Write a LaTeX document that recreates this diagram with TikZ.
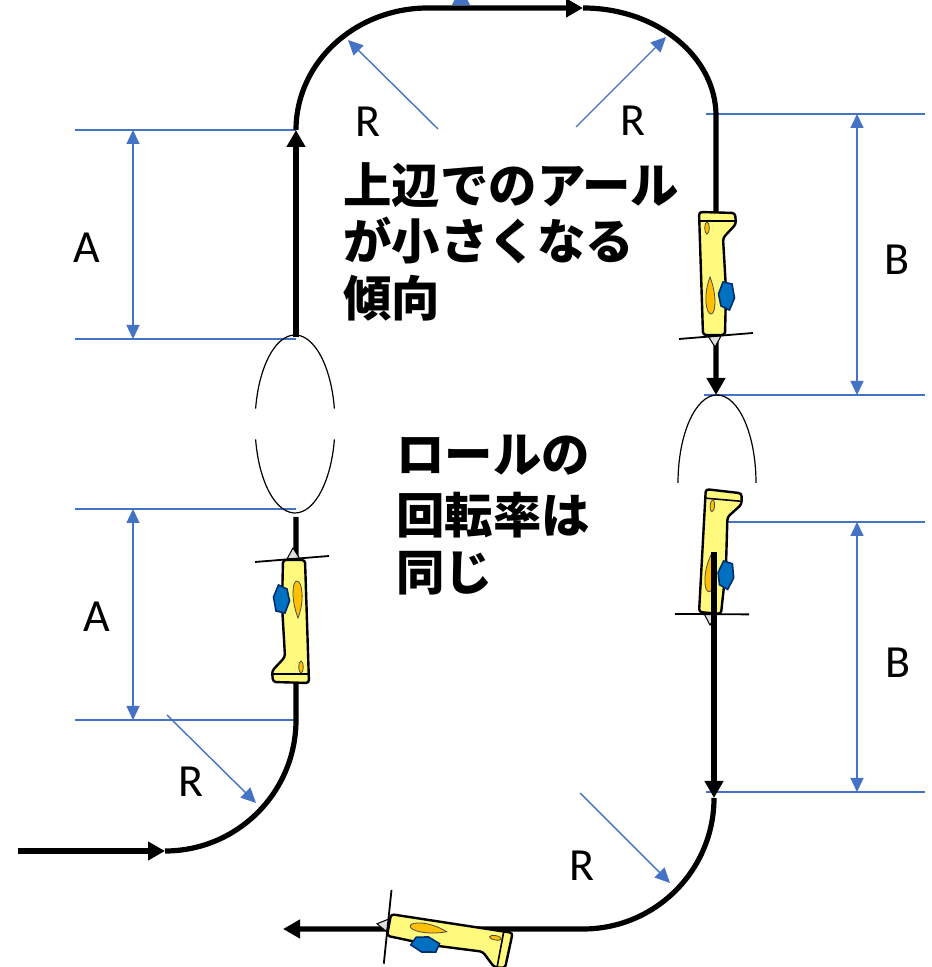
\documentclass[tikz,border=0pt]{standalone}
\usepackage{fontspec}
\setmainfont{Carlito}
\newfontfamily\jpfont{Noto Sans CJK JP}
\usetikzlibrary{arrows.meta}
\definecolor{dimblue}{RGB}{68,114,196}
\definecolor{planeyellow}{RGB}{255,250,125}
\definecolor{wingorange}{RGB}{255,192,0}
\definecolor{canopyblue}{RGB}{0,112,192}
\tikzset{
flight/.style={line width=2.6pt},
arrowed/.style={-{Triangle[length=8.5pt,width=9pt]}},
dimline/.style={draw=dimblue, line width=0.7pt},
dimarrow/.style={dimline, {Triangle[length=7pt,width=6.5pt]}-{Triangle[length=7pt,width=6.5pt]}},
rline/.style={dimline, -{Triangle[length=7.5pt,width=7pt]}},
rollline/.style={line width=0.6pt},
lbl/.style={font=\fontsize{23}{27}\selectfont, inner sep=0pt},
jp/.style={font=\jpfont\bfseries\fontsize{24.2}{28}\selectfont, inner sep=0pt, anchor=base west},
body/.style={draw, line width=1.2pt, fill=planeyellow, rounded corners=1.5pt},
wing/.style={draw=black!70, line width=0.4pt, fill=wingorange},
canopy/.style={draw={rgb,255:red,0;green,45;blue,110}, line width=0.8pt, fill=canopyblue},
pics/plane/.style={code={
  \draw[line width=0.5pt, fill=gray!25] (-7,1) -- (-1,12) -- (6,1) -- cycle;
  \draw[body] (-11,0) -- (11,0) -- (15,-123) -- (-21,-122) -- (-22,-111) -- (-9,-97) -- (-12,-45) -- cycle;
  \draw[line width=0.8pt] (-21,-114) -- (14,-114);
  \draw[wing] (7,-107) ellipse[x radius=2.2, y radius=6];
  \draw[wing] (4,-58) .. controls (11,-40) and (8,-21) .. (3,-21) .. controls (-2,-21) and (-3,-40) .. (4,-58) -- cycle;
  \draw[canopy] (-15.5,-25) -- (-7,-29) -- (-4.5,-41) -- (-9,-53) -- (-18,-51) -- (-20.5,-37) -- cycle;
  \draw[line width=0.9pt] (-39,-2) -- (35,4);
}}
}

\begin{document}
\begin{tikzpicture}[x=0.5pt, y=0.5pt]
\useasboundingbox (0,0) rectangle (931,967);

% points along the flight path
\coordinate (in) at (18,116);
\coordinate (c1) at (165,116);
\coordinate (l2) at (296,450);
\coordinate (l3) at (296,630);
\coordinate (l4) at (296,837);
\coordinate (t2) at (583,959);
\coordinate (r2) at (716,572);
\coordinate (r3) at (714,415);
\coordinate (r4) at (714,169);
\coordinate (out) at (283,38);
\coordinate (roll) at (295,543);
\coordinate (rollr) at (717,484);

% dimension lines
\draw[dimline] (75,837) -- (296,837);
\draw[dimline] (75,628) -- (296,628);
\draw[dimline] (75,458) -- (296,458);
\draw[dimline] (75,247) -- (296,247);
\draw[dimline] (706,853) -- (925,853);
\draw[dimline] (704,572) -- (925,572);
\draw[dimline] (704,445) -- (925,445);
\draw[dimline] (706,175) -- (925,175);
\draw[dimarrow] (133,837) -- (133,628);
\draw[dimarrow] (133,458) -- (133,247);
\draw[dimarrow] (857,853) -- (857,572);
\draw[dimarrow] (857,445) -- (857,175);

% radius arrows
\draw[rline] (438,838) -- (348,927);
\draw[rline] (576,840) -- (666,930);
\draw[rline] (167,252) -- (256,164);
\draw[rline] (580,174) -- (670,84);
\begin{scope}
\clip (0,0) rectangle (931,967);
\fill[dimblue] (452,962) -- (470,962) -- (461,980) -- cycle;
\end{scope}

% the loop
\draw[flight, arrowed] (in) -- (c1);
\draw[flight] (c1) arc[start angle=-90, end angle=0, radius=131] -- (l2);
\draw[flight, arrowed] (l3) -- (l4);
\draw[flight, arrowed] (l4) arc[start angle=180, end angle=90, x radius=132, y radius=122] -- (t2);
\draw[flight, arrowed] (t2) arc[start angle=90, end angle=0, x radius=133, y radius=108] -- (r2);
\draw[flight, arrowed] (r4) arc[start angle=0, end angle=-90, radius=131] -- (out);

% roll
\draw[rollline] (roll) ++(10:40 and 89) arc[start angle=10, end angle=170, x radius=40, y radius=89];
\draw[rollline] (roll) ++(190:40 and 89) arc[start angle=190, end angle=350, x radius=40, y radius=89];
\draw[rollline] (rollr) ++(180:39 and 88) arc[start angle=180, end angle=0, x radius=39, y radius=88];

% planes
\pic (pa) at (294,407) {plane};
\pic[rotate=180] (pb) at (714,632) {plane};
\pic[rotate=175] (pc) at (710,354) {plane};
\pic[rotate=79.4] (pd) at (389,42) {plane};
\draw[flight, arrowed] (r3) -- (r4);

% labels
\node[lbl] (R1) at (368,845) {R};
\node[lbl] (R2) at (633,846) {R};
\node[lbl] (R3) at (191,185) {R};
\node[lbl] (R4) at (582,101) {R};
\node[lbl] (A1) at (87,719) {A};
\node[lbl] (A2) at (97,350) {A};
\node[lbl] (B1) at (897,707) {B};
\node[lbl] (B2) at (898,304) {B};

\node[jp] (top1) at (343,763) {上辺でのアール};
\node[jp] (top2) at (343,707) {が小さくなる};
\node[jp] (top3) at (343,650) {傾向};
\node[jp] (roll1) at (396,494) {ロールの};
\node[jp] (roll2) at (396,433) {回転率は};
\node[jp] (roll3) at (396,376) {同じ};
\end{tikzpicture}
\end{document}
